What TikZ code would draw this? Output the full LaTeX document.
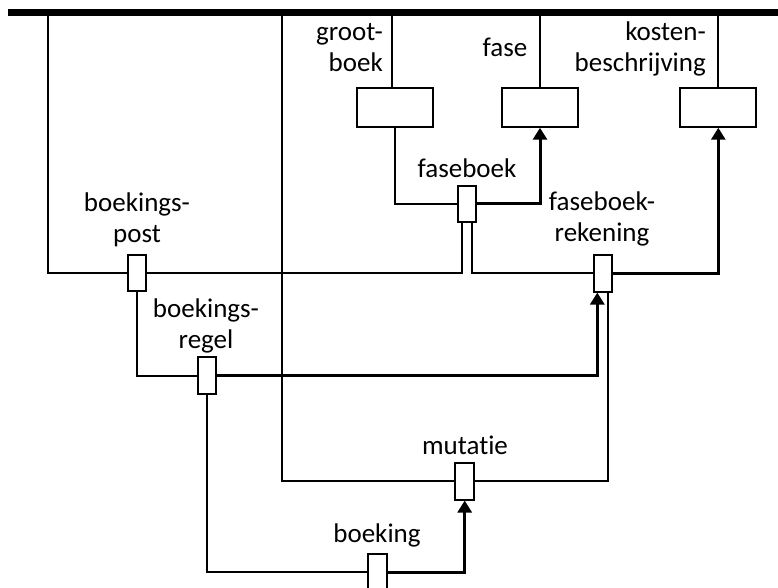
\documentclass[tikz,border=0pt]{standalone}
\usepackage{fontspec}
\setmainfont{Carlito}[Ligatures=NoCommon]
\usetikzlibrary{arrows.meta}
\begin{document}
\begin{tikzpicture}[x=1pt,y=-1pt,
  entity/.style={draw,line width=2pt,minimum width=76pt,minimum height=38.5pt,inner sep=0pt},
  link/.style={draw,line width=2pt,fill=white,minimum width=18.5pt,minimum height=36.5pt,inner sep=0pt},
  lbl/.style={font=\fontsize{27}{31}\selectfont,inner sep=0pt},
  rel/.style={line width=2pt},
  fk/.style={line width=3pt,-{Triangle[width=14pt,length=12pt]}},
  bar/.style={line width=7pt}]
\useasboundingbox (0,0) rectangle (778,588);

% entity boxes
\node[entity] (gb)  at (395,107.5) {};
\node[entity] (fs)  at (540,107.5) {};
\node[entity] (kb)  at (718.3,107.5) {};

% relationship boxes
\node[link] (fb)  at (467,203.8) {};
\node[link] (fbr) at (602.8,273.3) {};
\node[link] (bp)  at (137,273) {};
\node[link] (br)  at (207,375.5) {};
\node[link] (mut) at (464.7,481.3) {};
\node[link] (bk)  at (377.5,572) {};

% top bar and its drop points
\coordinate (barL) at (8,13);
\coordinate (barR) at (780,13);
\coordinate (dL)  at (47.7,13);
\coordinate (dM)  at (281.7,13);
\coordinate (dGb) at (392,13);
\coordinate (dFs) at (540,13);
\coordinate (dKb) at (718.3,13);
\draw[bar] (barL) -- (barR);

\draw[rel] (dGb) -- ([xshift=-3pt]gb.north);
\draw[rel] (dFs) -- (fs.north);
\draw[rel] (dKb) -- (kb.north);

% faseboek
\draw[rel] (gb.south) |- (fb.west);
\draw[fk] (fb.east) -| (fs.south);

% boekingspost
\draw[rel] (dL) |- (bp.west);
\draw[rel] (bp.east) -| ([xshift=-5pt]fb.south);

% faseboekrekening
\draw[rel] ([xshift=5pt]fb.south) |- (fbr.west);
\draw[fk] (fbr.east) -| (kb.south);

% boekingsregel
\draw[rel] (bp.south) |- (br.west);
\draw[fk] (br.east) -| ([xshift=-5.5pt]fbr.south);

% mutatie
\draw[rel] (dM) |- (mut.west);
\draw[rel] (mut.east) -| ([xshift=4.9pt]fbr.south);

% boeking
\draw[rel] (br.south) |- (bk.west);
\draw[fk] (bk.east) -| (mut.south);

% labels (multi-line labels are placed by the baseline of their last line)
\node[lbl,align=right,anchor=base east] (gbl) at (383,71.7) {groot-\\boek};
\node[lbl,anchor=base] (fsl) at (505,57) {fase};
\node[lbl,align=right,anchor=base east] (kbl) at (706,71.7) {kosten-\\beschrijving};
\node[lbl,anchor=base] (fbl) at (467,177) {faseboek};
\node[lbl,align=center,anchor=base] (fbrl) at (602,241.7) {faseboek-\\rekening};
\node[lbl,align=center,anchor=base] (bpl) at (137,242.7) {boekings-\\post};
\node[lbl,align=center,anchor=base] (brl) at (206,348.3) {boekings-\\regel};
\node[lbl,anchor=base] (mutl) at (465,454) {mutatie};
\node[lbl,anchor=base] (bkl) at (377,542.7) {boeking};
\end{tikzpicture}
\end{document}
